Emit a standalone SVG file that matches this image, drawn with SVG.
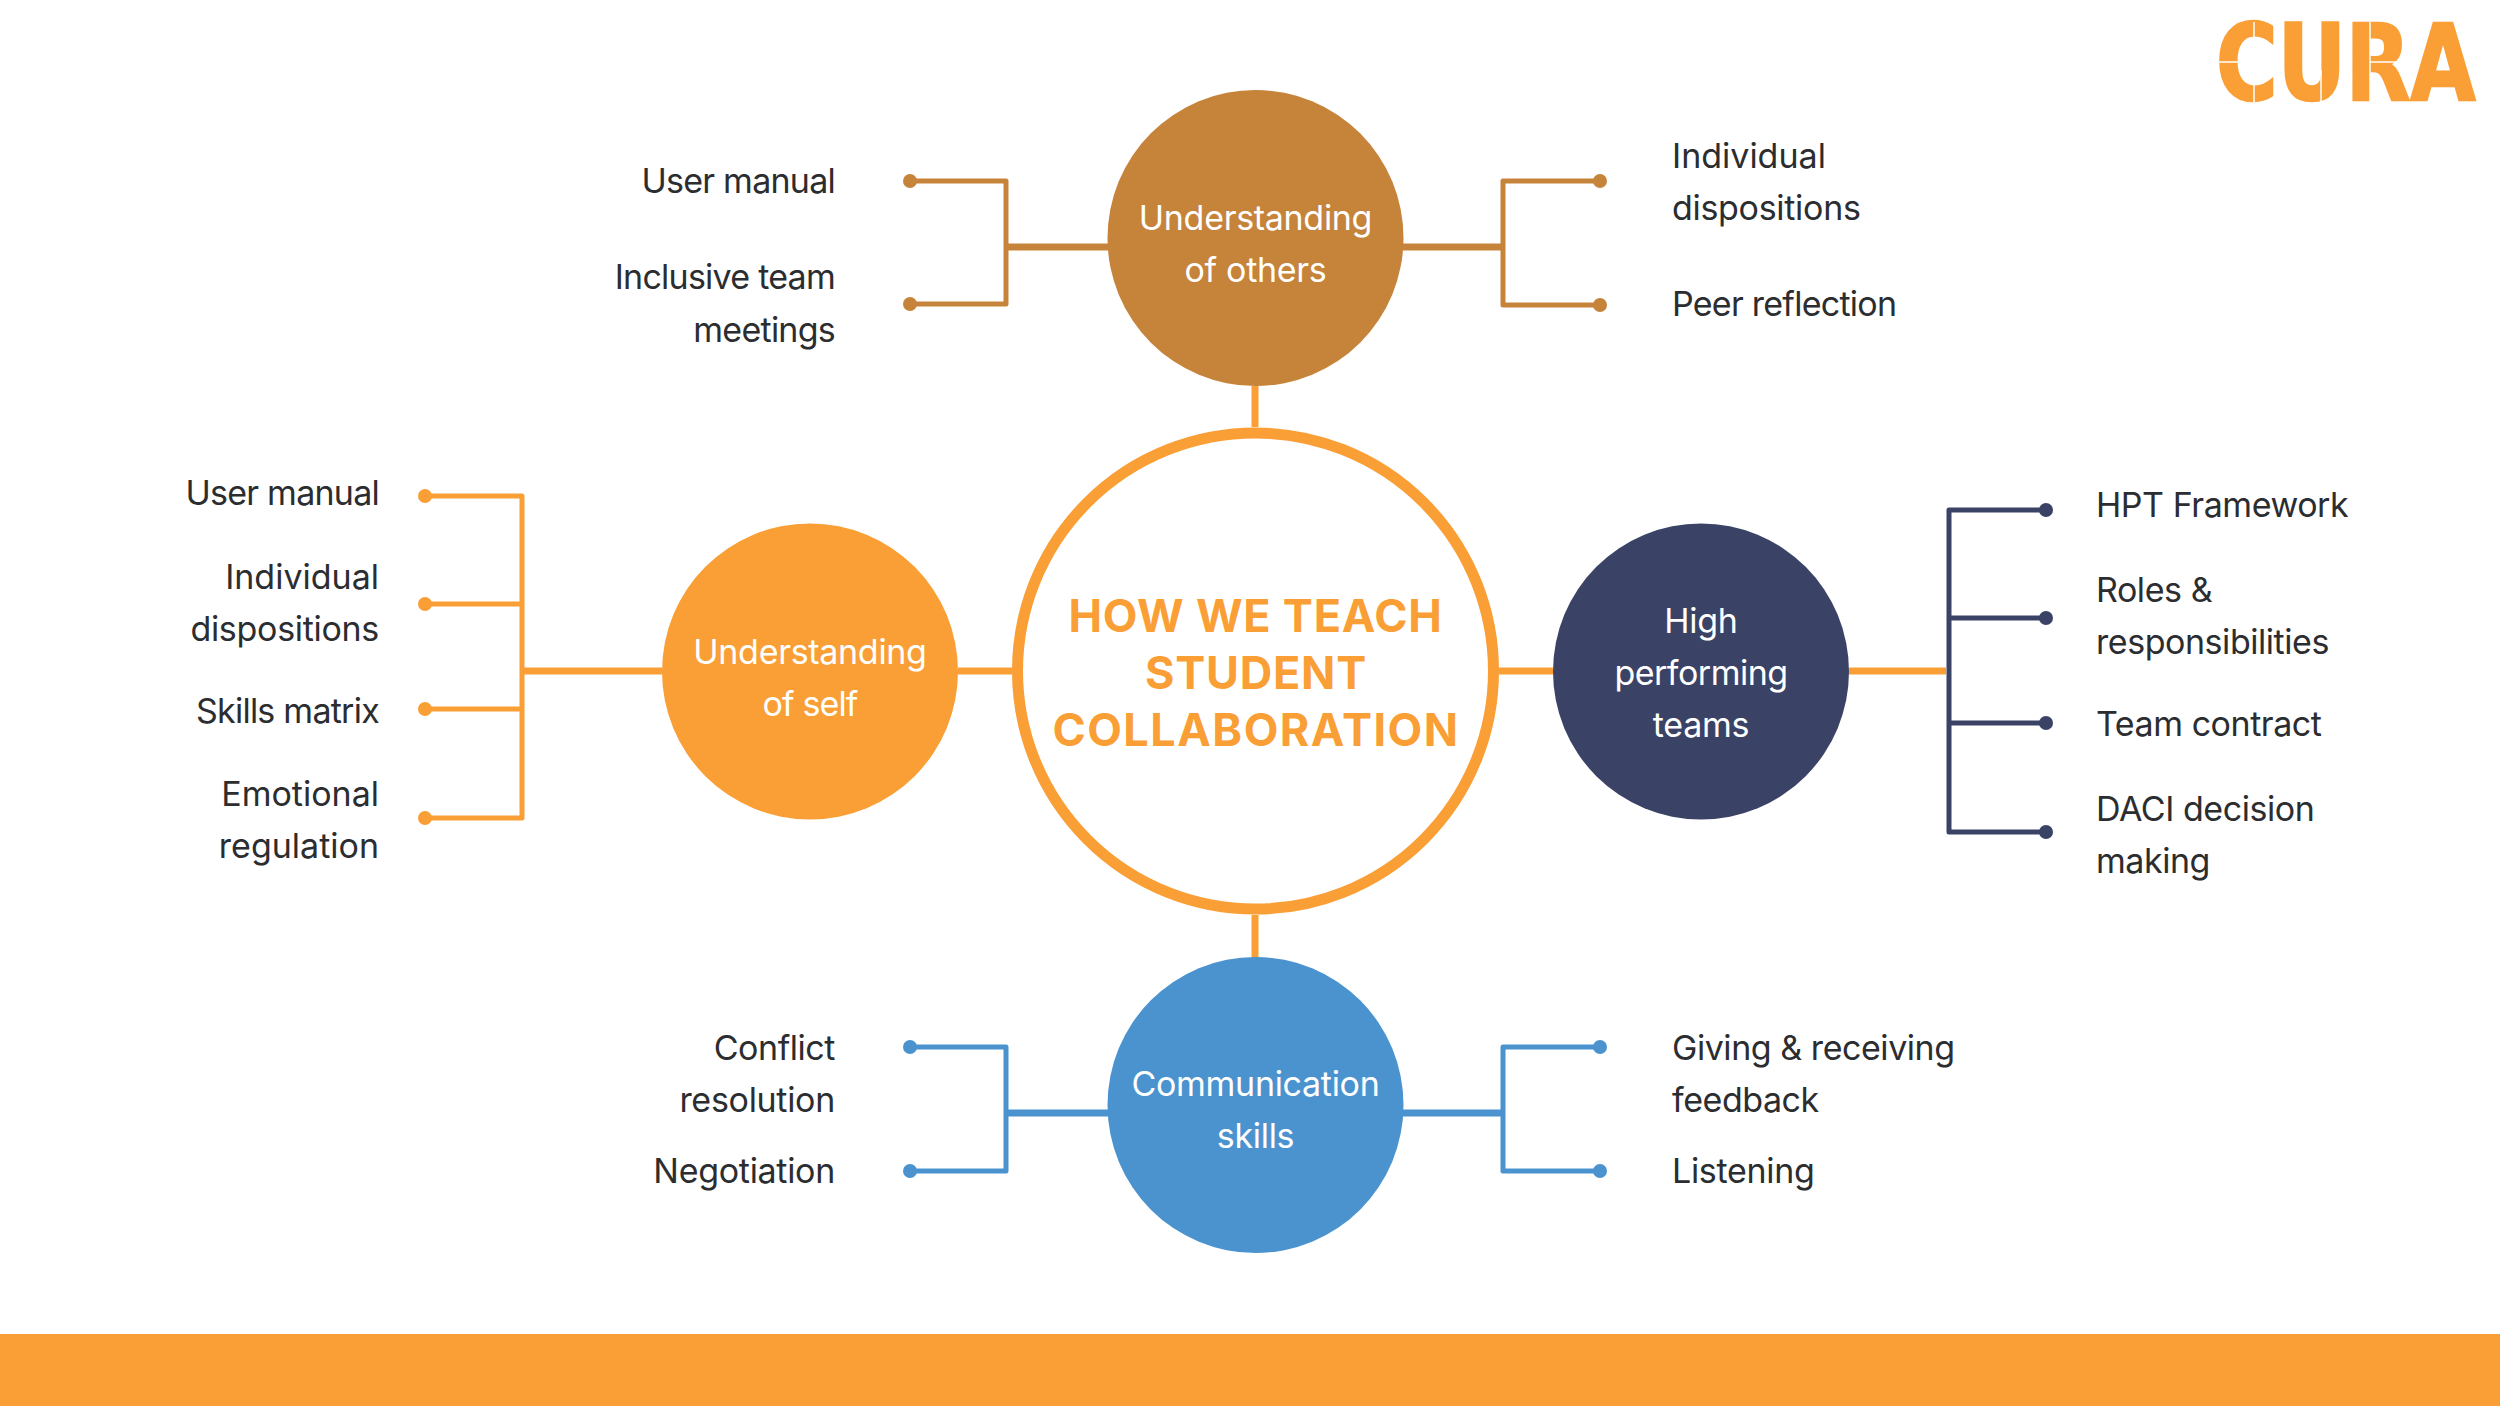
<svg xmlns="http://www.w3.org/2000/svg" width="2500" height="1406" viewBox="0 0 2500 1406">
<style>
text{font-family:Inter,"Liberation Sans",sans-serif;font-size:34px;fill:#2b2d30;letter-spacing:-.75px}
.s0{letter-spacing:0}
.s1{letter-spacing:-.3px}
.s2{letter-spacing:-.45px}
.r{text-anchor:end}
.w{fill:#fff;text-anchor:middle;letter-spacing:-.3px}
.t{font-weight:700;font-size:45px;fill:#F99F36;text-anchor:middle;letter-spacing:.75px}
.l{fill:none;stroke-width:5;stroke-linejoin:round;stroke-linecap:round}
.mm{fill:none;stroke-width:7}
.m{fill:none;stroke:#F99F36;stroke-width:7}
.brown{stroke:#C6833A}.blue{stroke:#4A93CF}.navy{stroke:#3A4266}.org{stroke:#F99F36}
.db{fill:#C6833A}.dl{fill:#4A93CF}.dn{fill:#3A4266}.do{fill:#F99F36}
</style>
<rect width="2500" height="1406" fill="#fff"/>
<rect id="bottom-bar" y="1334" width="2500" height="72" fill="#F99F36"/>
<g id="logo">
<text transform="translate(2216 100) scale(1 1.26)" style="font-family:'DejaVu Sans',sans-serif;font-weight:700;font-size:84px;fill:#F99F36;stroke:#F99F36;stroke-width:2;letter-spacing:0">CURA</text>
<path d="M2216 62H2240M2254 22V44M2254 80V102M2321 70V102M2370 22V102M2370 62H2410" fill="none" stroke="#fff" stroke-width="1.5"/>
</g>
<g id="connectors">
<path class="m" d="M1255 386V427M1255 915V958M958 671H1012M1499 671H1553"/>
<path class="l brown" d="M910 181H1006V304H910"/><path class="mm brown" d="M1006 247H1108"/>
<path class="l brown" d="M1600 181H1503V305H1600"/><path class="mm brown" d="M1503 247H1403"/>
<path class="l blue" d="M910 1047H1006V1171H910"/><path class="mm blue" d="M1006 1113H1108"/>
<path class="l blue" d="M1600 1047H1503V1171H1600"/><path class="mm blue" d="M1503 1113H1403"/>
<path class="l org" d="M425 496H522V818H425M425 604H522M425 709H522"/><path class="mm org" d="M522 671H662"/>
<path class="m" d="M1849 671H1946"/>
<path class="l navy" d="M2046 510H1949V832H2046M1949 618H2046M1949 723H2046"/>
<g class="db"><circle cx="910" cy="181" r="7"/><circle cx="910" cy="304" r="7"/><circle cx="1600" cy="181" r="7"/><circle cx="1600" cy="305" r="7"/></g>
<g class="dl"><circle cx="910" cy="1047" r="7"/><circle cx="910" cy="1171" r="7"/><circle cx="1600" cy="1047" r="7"/><circle cx="1600" cy="1171" r="7"/></g>
<g class="do"><circle cx="425" cy="496" r="7"/><circle cx="425" cy="604" r="7"/><circle cx="425" cy="709" r="7"/><circle cx="425" cy="818" r="7"/></g>
<g class="dn"><circle cx="2046" cy="510" r="7"/><circle cx="2046" cy="618" r="7"/><circle cx="2046" cy="723" r="7"/><circle cx="2046" cy="832" r="7"/></g>
</g>
<g id="center"><circle cx="1255.5" cy="671" r="238" fill="#fff" stroke="#F99F36" stroke-width="11"/>
<text class="t" x="1255.5" y="632">HOW WE TEACH</text><text class="t" x="1256" y="689">STUDENT</text><text class="t" x="1256" y="746" style="letter-spacing:1.5px">COLLABORATION</text></g>
<g id="understanding-others"><circle cx="1255.5" cy="238" r="148" fill="#C6833A"/>
<text class="w" x="1255.5" y="230">Understanding</text><text class="w" x="1255.5" y="282">of others</text></g>
<g id="understanding-self"><circle cx="810" cy="671.5" r="148" fill="#F99F36"/>
<text class="w" x="810" y="664">Understanding</text><text class="w" x="810" y="716" style="letter-spacing:-.9px">of self</text></g>
<g id="high-performing"><circle cx="1701" cy="671.5" r="148" fill="#3A4266"/>
<text class="w" x="1701" y="633">High</text><text class="w" x="1701" y="685" style="letter-spacing:-.5px">performing</text><text class="w" x="1701" y="737">teams</text></g>
<g id="communication"><circle cx="1255.5" cy="1105" r="148" fill="#4A93CF"/>
<text class="w" x="1255.5" y="1096">Communication</text><text class="w" x="1255.5" y="1148">skills</text></g>
<g id="labels-others">
<text class="r" x="835" y="193">User manual</text><text class="r" x="835" y="289">Inclusive team</text><text class="r" x="835" y="342">meetings</text>
<text class="s0" x="1672" y="168">Individual</text><text class="s1" x="1672" y="220">dispositions</text><text x="1672" y="316">Peer reflection</text></g>
<g id="labels-self">
<text class="r" x="379" y="505">User manual</text><text class="r s0" x="379" y="589">Individual</text><text class="r s1" x="379" y="641">dispositions</text><text class="r" x="379" y="723">Skills matrix</text><text class="r s0" x="379" y="806">Emotional</text><text class="r s0" x="379" y="858">regulation</text></g>
<g id="labels-teams">
<text class="s2" x="2096" y="517">HPT Framework</text><text class="s2" x="2096" y="602">Roles &amp;</text><text class="s2" x="2096" y="654">responsibilities</text><text class="s2" x="2096" y="736">Team contract</text><text class="s2" x="2096" y="821">DACI decision</text><text class="s2" x="2096" y="873">making</text></g>
<g id="labels-communication">
<text class="r s2" x="835" y="1060">Conflict</text><text class="r s1" x="835" y="1112">resolution</text><text class="r s1" x="835" y="1183">Negotiation</text>
<text class="s2" x="1672" y="1060">Giving &amp; receiving</text><text class="s2" x="1672" y="1112">feedback</text><text class="s1" x="1672" y="1183">Listening</text></g>
</svg>
